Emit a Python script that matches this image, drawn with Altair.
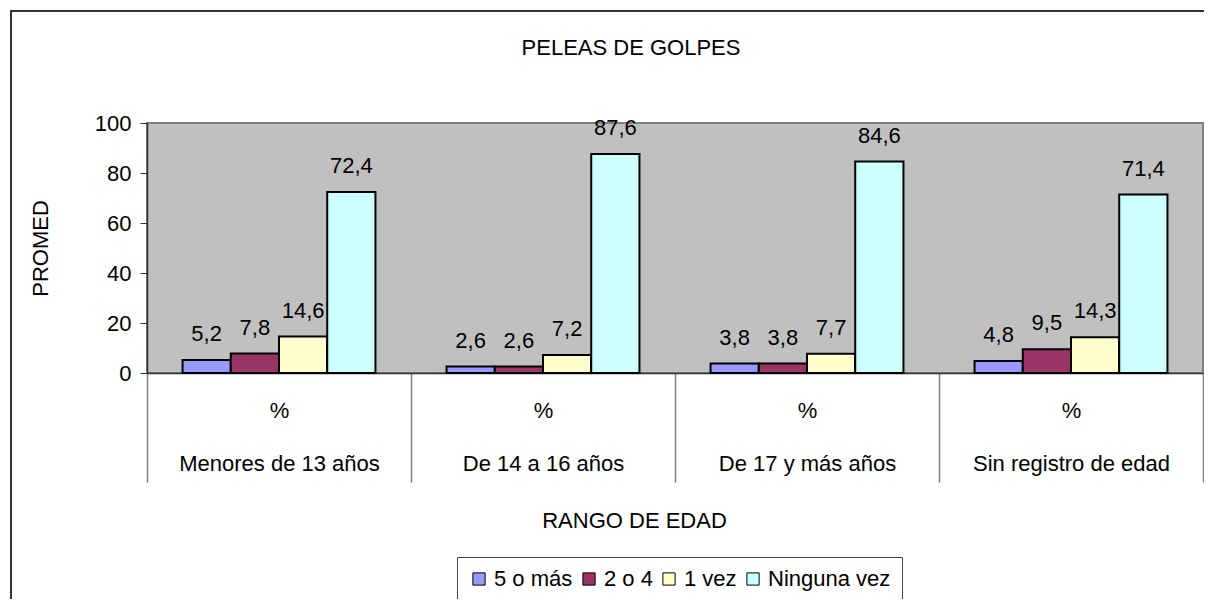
import altair as alt
import pandas as pd

categories = ["Menores de 13 años", "De 14 a 16 años", "De 17 y más años", "Sin registro de edad"]
series = ["5 o más", "2 o 4", "1 vez", "Ninguna vez"]
v_5_o_mas = [5.2, 2.6, 3.8, 4.8]
v_2_o_4 = [7.8, 2.6, 3.8, 9.5]
v_1_vez = [14.6, 7.2, 7.7, 14.3]
v_ninguna = [72.4, 87.6, 84.6, 71.4]
colors = ["#9999FF", "#993366", "#FFFFCC", "#CCFFFF"]
y_ticks = [0, 20, 40, 60, 80, 100]

rows = []
for s, vals in zip(series, [v_5_o_mas, v_2_o_4, v_1_vez, v_ninguna]):
    for c, v in zip(categories, vals):
        rows.append({"cat": c, "serie": s, "val": v})
df = pd.DataFrame(rows)

FONT = "Liberation Sans"
FS = 22
W, H = 1056, 250

x_enc = alt.X(
    "cat:N",
    sort=categories,
    scale=alt.Scale(paddingInner=0, paddingOuter=0),
    axis=alt.Axis(
        title="RANGO DE EDAD",
        titleX=487, titleY=147, titleAlign="center", titleBaseline="middle",
        titleFont=FONT, titleFontSize=FS, titleFontWeight="normal", titleColor="black",
        labelExpr="datum.label ? ['%', datum.label] : ''",
        labelLineHeight=53, labelBaseline="top", labelPadding=-82,
        labelFont=FONT, labelFontSize=FS, labelColor="black", labelAngle=0,
        labelOverlap=False, labelLimit=400,
        tickBand="extent", tickSize=109, tickColor="#808080", tickWidth=1.5,
        domainColor="#333333", domainWidth=1.5,
    ),
)
xoff = alt.XOffset("serie:N", sort=series, scale=alt.Scale(paddingInner=0, paddingOuter=0.737))
y_enc = alt.Y(
    "val:Q",
    scale=alt.Scale(domain=[0, 100], nice=False),
    axis=alt.Axis(
        title="PROMED", values=y_ticks, grid=False,
        titleX=-107, titleY=125, titleAngle=270, titleAlign="center", titleBaseline="middle",
        titleFont=FONT, titleFontSize=FS, titleFontWeight="normal", titleColor="black",
        labelFont=FONT, labelFontSize=FS, labelColor="black", labelPadding=9,
        tickSize=7, tickColor="#333333", domainColor="#333333", domainWidth=1.5,
    ),
)

bars = alt.Chart(df).mark_bar(stroke="black", strokeWidth=2).encode(
    x=x_enc,
    xOffset=xoff,
    y=y_enc,
    color=alt.Color(
        "serie:N",
        sort=series,
        scale=alt.Scale(domain=series, range=colors),
        legend=alt.Legend(
            title=None, orient="none", legendX=310, legendY=434,
            direction="horizontal", columns=4,
            symbolType="square", symbolSize=150, symbolStrokeColor="black", symbolStrokeWidth=1,
            symbolOpacity=1,
            labelFont=FONT, labelFontSize=FS, labelColor="black", labelOffset=4,
            columnPadding=5, padding=11, strokeColor="#444444", fillColor="white",
        ),
    ),
)

labels = alt.Chart(df).transform_calculate(
    lab="replace(format(datum.val, '.1f'), '.', ',')"
).mark_text(font=FONT, fontSize=FS, color="black", baseline="alphabetic", dy=-19).encode(
    x=alt.X("cat:N", sort=categories),
    xOffset=alt.XOffset("serie:N", sort=series),
    y="val:Q",
    text="lab:N",
)

one = pd.DataFrame({"t": ["PELEAS  DE  GOLPES"]})
title = alt.Chart(one).mark_text(font=FONT, fontSize=FS, color="black", baseline="middle", align="center").encode(
    text="t:N", x=alt.value(484), y=alt.value(-75)
)
left_line = alt.Chart(one).mark_rule(stroke="#333333", strokeWidth=2).encode(
    x=alt.value(-136), y=alt.value(-113), y2=alt.value(700)
)
top_line = alt.Chart(one).mark_rule(stroke="#333333", strokeWidth=2).encode(
    x=alt.value(-137), x2=alt.value(1100), y=alt.value(-112)
)

chart = alt.layer(left_line, top_line, bars, labels, title).properties(
    width=W, height=H,
    autosize=alt.AutoSizeParams(type="none"),
    padding={"left": 139, "top": 115, "right": 1, "bottom": 226},
).configure_view(
    fill="#C0C0C0", stroke="#808080", strokeWidth=2
)

chart.save("out.html", embed_options={"renderer": "svg", "actions": False})
